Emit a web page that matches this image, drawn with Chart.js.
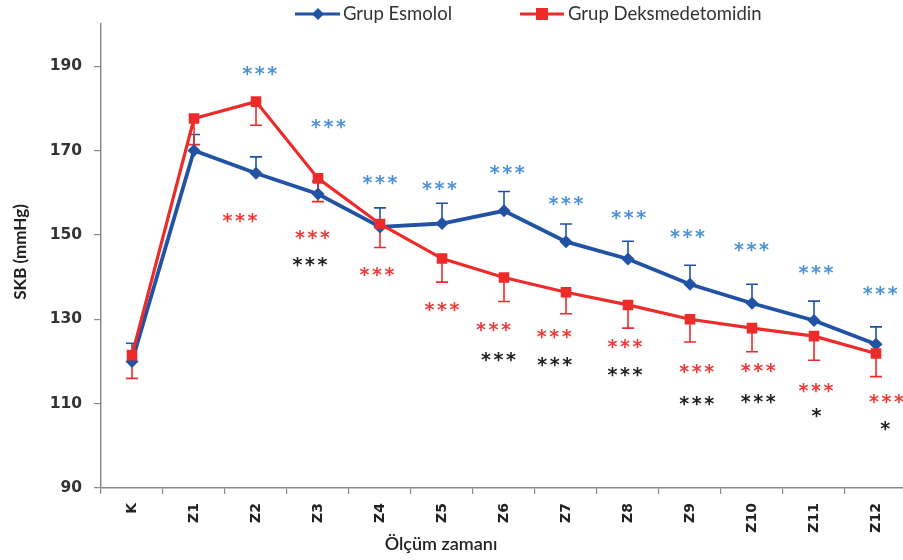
<!DOCTYPE html>
<html>
<head>
<meta charset="utf-8">
<script src="https://cdn.jsdelivr.net/npm/chart.js@4.4.1/dist/chart.umd.min.js"></script>
<style>
  html, body { margin: 0; padding: 0; background: #ffffff; overflow: hidden; }
  #wrap { width: 903px; height: 560px; position: relative; overflow: hidden; }
  canvas { display: block; }
</style>
</head>
<body>
<div id="wrap"><canvas id="c" width="907" height="560"></canvas></div>
<script>
// ---- data ----
const categories = ['K', 'Z1', 'Z2', 'Z3', 'Z4', 'Z5', 'Z6', 'Z7', 'Z8', 'Z9', 'Z10', 'Z11', 'Z12'];
const esmolol   = [120.0, 170.0, 164.6, 159.7, 151.9, 152.7, 155.7, 148.4, 144.3, 138.3, 133.8, 129.7, 124.1];
const esmololSD = [4.3, 3.8, 3.9, 3.0, 4.5, 4.8, 4.6, 4.2, 4.2, 4.5, 4.5, 4.6, 4.1];
const dexmed    = [121.5, 177.6, 181.6, 163.4, 152.6, 144.4, 139.9, 136.4, 133.4, 130.0, 127.9, 126.0, 121.9];
const dexmedSD  = [5.5, 6.2, 5.6, 5.5, 5.6, 5.6, 5.7, 5.1, 5.5, 5.4, 5.6, 5.7, 5.5];
const yTicks = [90, 110, 130, 150, 170, 190];
const seriesNames = ['Grup Esmolol', 'Grup Deksmedetomidin'];
const xTitle = 'Ölçüm zamanı';
const yTitle = 'SKB (mmHg)';

// significance markers (category index, value, count)
const sigBlueX = [2.06, 3.17, 4.0, 4.96, 6.05, 7.0, 8.01, 8.96, 9.99, 11.03, 12.07];
const sigBlueY = [188.9, 176.4, 163.1, 161.5, 165.5, 158.0, 154.7, 150.3, 147.2, 141.7, 136.8];
const sigRedX = [1.74, 2.91, 3.95, 5.0, 5.83, 6.81, 7.95, 9.11, 10.1, 11.03, 12.17];
const sigRedY = [153.9, 150.0, 141.3, 133.0, 128.2, 126.6, 124.1, 118.1, 118.5, 113.6, 111.0];
const sigBlackX = [2.87, 5.91, 6.82, 7.95, 9.11, 10.1, 11.04, 12.15];
const sigBlackY = [143.5, 121.1, 119.8, 117.4, 110.6, 111.0, 107.7, 104.6];
const sigBlackN = [3, 3, 3, 3, 3, 3, 1, 1];

// ---- styles ----
const BLUE = '#2152a3';
const RED = '#ee2b2b';
const SIG_BLUE = '#4b92d6';
const SIG_RED = '#f03a3a';
const SIG_BLACK = '#222222';
const AXIS = '#8a8a8a';
const TEXT = '#333333';

function drawStars(ctx, cx, cy, n, color) {
  ctx.save();
  ctx.fillStyle = color;
  ctx.font = 'bold 19px "DejaVu Sans"';
  ctx.textAlign = 'center';
  ctx.textBaseline = 'alphabetic';
  const m = ctx.measureText('*');
  const off = (m.actualBoundingBoxAscent - m.actualBoundingBoxDescent) / 2;
  const gap = 12.5;
  for (let i = 0; i < n; i++) {
    const x = cx + (i - (n - 1) / 2) * gap;
    ctx.fillText('*', x, cy + off);
  }
  ctx.restore();
}

const errorBars = {
  id: 'errorBars',
  beforeDatasetsDraw(chart) {
    const ctx = chart.ctx, xs = chart.scales.x, ys = chart.scales.y;
    const cap = 6;
    ctx.save();
    ctx.lineWidth = 1.6;
    ctx.strokeStyle = BLUE;
    esmolol.forEach((v, i) => {
      const x = xs.getPixelForValue(i);
      const y0 = ys.getPixelForValue(v), y1 = ys.getPixelForValue(v + esmololSD[i]);
      ctx.beginPath();
      ctx.moveTo(x, y0); ctx.lineTo(x, y1);
      ctx.moveTo(x - cap, y1); ctx.lineTo(x + cap, y1);
      ctx.stroke();
    });
    ctx.strokeStyle = RED;
    dexmed.forEach((v, i) => {
      const x = xs.getPixelForValue(i);
      const y0 = ys.getPixelForValue(v), y1 = ys.getPixelForValue(v - dexmedSD[i]);
      ctx.beginPath();
      ctx.moveTo(x, y0); ctx.lineTo(x, y1);
      ctx.moveTo(x - cap, y1); ctx.lineTo(x + cap, y1);
      ctx.stroke();
    });
    ctx.restore();
  }
};

const extras = {
  id: 'extras',
  afterDraw(chart) {
    const ctx = chart.ctx, xs = chart.scales.x, ys = chart.scales.y;
    sigBlueX.forEach((xi, k) => drawStars(ctx, xs.getPixelForValue(xi), ys.getPixelForValue(sigBlueY[k]), 3, SIG_BLUE));
    sigRedX.forEach((xi, k) => drawStars(ctx, xs.getPixelForValue(xi), ys.getPixelForValue(sigRedY[k]), 3, SIG_RED));
    sigBlackX.forEach((xi, k) => drawStars(ctx, xs.getPixelForValue(xi), ys.getPixelForValue(sigBlackY[k]), sigBlackN[k], SIG_BLACK));

    ctx.save();
    // legend
    ctx.lineWidth = 3;
    ctx.strokeStyle = BLUE;
    ctx.beginPath(); ctx.moveTo(295, 14); ctx.lineTo(340, 14); ctx.stroke();
    ctx.fillStyle = BLUE;
    ctx.beginPath(); ctx.moveTo(318, 8); ctx.lineTo(324, 14); ctx.lineTo(318, 20); ctx.lineTo(312, 14); ctx.closePath(); ctx.fill();
    ctx.strokeStyle = RED;
    ctx.beginPath(); ctx.moveTo(520, 14); ctx.lineTo(564, 14); ctx.stroke();
    ctx.fillStyle = RED;
    ctx.fillRect(536, 8, 12, 12);
    ctx.fillStyle = TEXT;
    ctx.font = '18.5px Lato';
    ctx.textAlign = 'left';
    ctx.textBaseline = 'middle';
    ctx.fillText(seriesNames[0], 343, 14);
    ctx.fillText(seriesNames[1], 568, 14);

    // x title
    ctx.font = '600 18px Lato';
    ctx.textAlign = 'center';
    ctx.fillStyle = '#222';
    ctx.fillText(xTitle, 441, 544);

    // y title
    ctx.translate(21, 252);
    ctx.rotate(-Math.PI / 2);
    ctx.font = 'bold 17px Lato';
    ctx.fillText(yTitle, 0, 0);
    ctx.restore();
  }
};

new Chart(document.getElementById('c'), {
  type: 'line',
  data: {
    labels: categories,
    datasets: [
      {
        label: seriesNames[0], data: esmolol, order: 2,
        borderColor: BLUE, backgroundColor: BLUE, borderWidth: 3.8,
        pointStyle: 'rectRot', pointRadius: 6.5, pointHoverRadius: 6.5,
        pointBorderWidth: 0, tension: 0
      },
      {
        label: seriesNames[1], data: dexmed, order: 1,
        borderColor: RED, backgroundColor: RED, borderWidth: 3.2,
        pointStyle: 'rect', pointRadius: 7.5, pointHoverRadius: 7.5,
        pointBorderWidth: 0, tension: 0
      }
    ]
  },
  options: {
    responsive: false,
    animation: false,
    events: [],
    layout: { autoPadding: false, padding: { top: 24, right: 0, left: 0, bottom: 0 } },
    plugins: { legend: { display: false }, tooltip: { enabled: false }, title: { display: false } },
    scales: {
      x: {
        type: 'category',
        offset: true,
        grid: { display: true, offset: true, drawOnChartArea: false, drawTicks: true, tickLength: 6, color: AXIS, lineWidth: 1.2 },
        border: { display: true, color: AXIS, width: 1.5 },
        ticks: {
          font: { family: 'DejaVu Sans', weight: 'bold', size: 14 },
          color: '#222', maxRotation: 90, minRotation: 90, padding: 9, autoSkip: false
        },
        afterFit(scale) { scale.height = 72; scale.paddingLeft = 0; scale.paddingRight = 0; }
      },
      y: {
        min: 90, max: 200,
        afterBuildTicks(scale) { scale.ticks = yTicks.map(v => ({ value: v })); },
        grid: { display: true, drawOnChartArea: false, drawTicks: true, tickLength: 7, color: AXIS, lineWidth: 1.2 },
        border: { display: true, color: AXIS, width: 1.5 },
        ticks: {
          font: { family: 'DejaVu Sans', weight: 'bold', size: 15.5 },
          color: TEXT, padding: 12
        },
        afterFit(scale) { scale.width = 101; scale.paddingTop = 0; scale.paddingBottom = 0; }
      }
    }
  },
  plugins: [errorBars, extras]
});
</script>
</body>
</html>
